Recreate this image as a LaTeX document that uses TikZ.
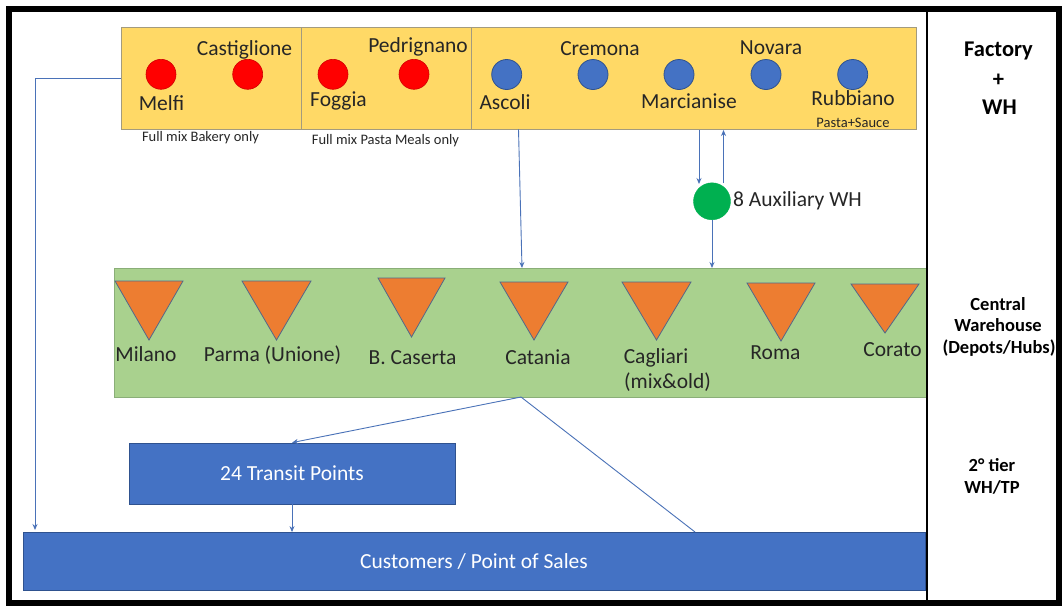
\documentclass[tikz,border=0pt]{standalone}
\usepackage{fontspec}
\setmainfont{Carlito}
\usetikzlibrary{arrows.meta}
\definecolor{fyel}{HTML}{FFD966}
\definecolor{fyelb}{HTML}{A39B7E}
\definecolor{fgreen}{HTML}{A9D18E}
\definecolor{fgreenb}{HTML}{8AAE78}
\definecolor{forange}{HTML}{ED7D31}
\definecolor{ftrib}{HTML}{52688A}
\definecolor{fblue}{HTML}{4472C4}
\definecolor{fblueb}{HTML}{2F528F}
\definecolor{fred}{HTML}{FF0000}
\definecolor{fredb}{HTML}{D00000}
\definecolor{fgc}{HTML}{00B050}
\definecolor{farr}{HTML}{4A72B8}
\begin{document}
\begin{tikzpicture}[x=1pt,y=-1pt,
  lbl/.style={inner sep=0pt, anchor=base, font=\fontsize{21.5}{24}\selectfont, text=black!85},
  sml/.style={inner sep=0pt, anchor=base, font=\fontsize{14.5}{17}\selectfont, text=black!85},
  hdr/.style={inner sep=0pt, anchor=base, font=\bfseries\fontsize{22.5}{26}\selectfont},
  hdrs/.style={inner sep=0pt, anchor=base, font=\bfseries\fontsize{18.5}{22}\selectfont},
  redc/.style={circle, fill=fred, draw=fredb, line width=0.6pt, minimum size=30pt, inner sep=0pt},
  bluec/.style={circle, fill=fblue, draw=fblueb, line width=0.8pt, minimum size=30pt, inner sep=0pt},
  arr/.style={draw=farr, line width=0.9pt, -{Stealth[length=6pt,width=5pt]}},
  ln/.style={draw=farr, line width=0.9pt},
  tri/.style={fill=forange, draw=ftrib, line width=0.8pt, line join=miter},
  bbox/.style={fill=fblue, draw=fblueb, line width=0.8pt, inner sep=0pt, text=white,
    font=\fontsize{21.5}{24}\selectfont, text height=13.5pt, text depth=0pt}
]
\useasboundingbox (0,0) rectangle (1062,606);
\fill[white] (0,0) rectangle (1062,606);

% factory + WH band
\node[draw=fyelb, fill=fyel, line width=0.8pt, minimum width=795pt, minimum height=102pt, inner sep=0pt] (fwh) at (518.5,78) {};
\draw[fyelb, line width=0.8pt] (301,27) -- (301,129);
\draw[fyelb, line width=0.8pt] (471,27) -- (471,129);

\node[redc] (melfi) at (161,74.3) {};
\node[redc] (castig) at (247.7,74.3) {};
\node[redc] (foggia) at (333,74.3) {};
\node[redc] (pedri) at (414,74.3) {};
\node[bluec] (ascoli) at (506.7,74.5) {};
\node[bluec] (cremona) at (593,74.5) {};
\node[bluec] (marc) at (679,74.5) {};
\node[bluec] (novara) at (766,74.5) {};
\node[bluec] (rubb) at (852.7,74.5) {};

\node[lbl] (tcastig) at (244.5,55) {Castiglione};
\node[lbl] (tmelfi) at (161.5,110) {Melfi};
\node[lbl] (tpedri) at (418,52.3) {Pedrignano};
\node[lbl] (tfoggia) at (338.5,106) {Foggia};
\node[lbl] (tascoli) at (505,109) {Ascoli};
\node[lbl] (tcremona) at (600,55) {Cremona};
\node[lbl] (tnovara) at (771,54) {Novara};
\node[lbl] (tmarc) at (689,108) {Marcianise};
\node[lbl] (trubb) at (853,105) {Rubbiano};
\node[sml] (tps) at (853,127) {Pasta+Sauce};
\node[sml] (tbak) at (200.5,141.7) {Full mix Bakery only};
\node[sml] (tpas) at (385.5,144) {Full mix Pasta Meals only};

% auxiliary WH
\node[circle, fill=fgc, draw=fgc, minimum size=37pt, inner sep=0pt] (aux) at (712,201.3) {};
\node[lbl, anchor=base west] (taux) at (733,206.7) {8 Auxiliary WH};

% central warehouse band
\node[fill=fgreen, draw=fgreenb, line width=0.8pt, minimum width=812pt, minimum height=129pt, inner sep=0pt] (cw) at (520,332.5) {};
\foreach \l/\r/\t/\b in {115/183/281/340, 242/311/281/340, 378/445/278/337, 500/568/282/340, 622/691/282/340, 747/815/283/341, 851/919/284/333}{
  \draw[tri] (\l,\t) -- (\r,\t) -- ({(\l+\r)/2},\b) -- cycle;
}
\node[lbl] (tmil) at (146,361.7) {Milano};
\node[lbl] (tpar) at (272.5,361.7) {Parma (Unione)};
\node[lbl] (tcas) at (412.5,364) {B. Caserta};
\node[lbl] (tcat) at (538,364) {Catania};
\node[lbl] (tcag) at (656,363) {Cagliari};
\node[lbl] (tmix) at (667.5,388) {(mix\&old)};
\node[lbl] (trom) at (775.5,359) {Roma};
\node[lbl] (tcor) at (892.5,356.7) {Corato};

% lower boxes
\node[bbox, minimum width=326pt, minimum height=61pt] (tp) at (292,473.5) {24 Transit Points};
\node[bbox, minimum width=902pt, minimum height=58pt] (cust) at (474,561.5) {Customers / Point of Sales};

% connectors
\coordinate (lc) at (35,530);
\draw[arr] (fwh.west) -| (lc);
\coordinate (a2) at (522,268);
\draw[arr] (fwh.south) -- (a2);
\coordinate (m1) at (699,130);
\coordinate (m2) at (699,184);
\draw[arr] (m1) -- (m2);
\coordinate (u1) at (723.5,183);
\coordinate (u2) at (723.5,130);
\draw[arr] (u1) -- (u2);
\coordinate (g1) at (712,268);
\draw[arr] (aux.south) -- (g1);
\coordinate (cat) at (521,397);
\draw[arr] (cat) -- (tp.north);
\coordinate (c2) at (695,532);
\draw[ln] (cat) -- (c2);
\draw[arr] (tp.south) -- (tp.south |- cust.north);

% frame and right column
\draw[line width=6pt] (9,9) rectangle (1059,603);
\draw[line width=2.5pt] (927,9) -- (927,603);
\node[hdr] (h1) at (998.5,56.7) {Factory};
\node[hdr] (h2) at (998.5,86) {+};
\node[hdr] (h3) at (999.5,114) {WH};
\node[hdrs] (h4) at (998,310) {Central};
\node[hdrs] (h5) at (998,331.7) {Warehouse};
\node[hdrs] (h6) at (999,353) {(Depots/Hubs)};
\node[hdrs] (h7) at (992,471.7) {2° tier};
\node[hdrs] (h8) at (992,493.3) {WH/TP};
\end{tikzpicture}
\end{document}
